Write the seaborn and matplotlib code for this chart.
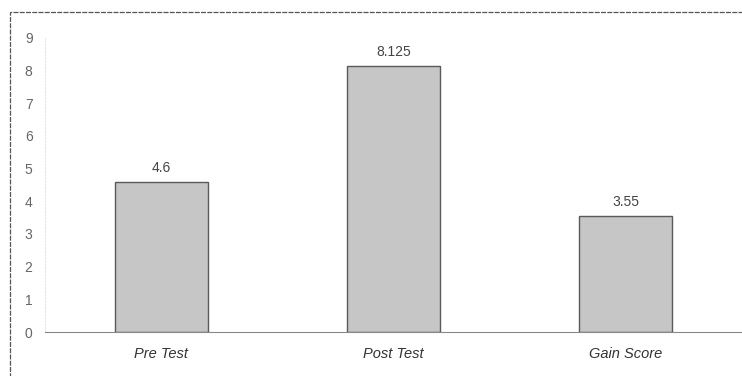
import matplotlib
matplotlib.use("Agg")
import matplotlib.pyplot as plt
import matplotlib.patches as mpatches
import seaborn as sns
import pandas as pd

categories = ["Pre Test", "Post Test", "Gain Score"]
scores = [4.6, 8.125, 3.55]
value_labels = ["4.6", "8.125", "3.55"]
y_ticks = [0, 1, 2, 3, 4, 5, 6, 7, 8, 9]

sns.set_theme(style="white")
plt.rcParams["font.family"] = ["Liberation Sans", "DejaVu Sans"]

df = pd.DataFrame({"test": categories, "score": scores})

fig = plt.figure(figsize=(7.42, 3.76), dpi=100)
fig.patch.set_facecolor("white")
ax = fig.add_axes([45 / 742, 1 - 332 / 376, 1 - 45 / 742, (332 - 37.7) / 376])

sns.barplot(data=df, x="test", y="score", ax=ax, color="#c6c6c6",
            width=0.4, edgecolor="#5a5a5a", linewidth=1.0, saturation=1)

ax.set_ylim(0, 9)
ax.set_xlim(-0.5, 2.5)
ax.set_yticks(y_ticks)
ax.set_yticklabels([str(t) for t in y_ticks], color="#666666", fontsize=10)
ax.tick_params(axis="y", length=0, pad=9)
ax.tick_params(axis="x", length=0, pad=11)
ax.set_xticks(range(len(categories)))
ax.set_xticklabels(categories, style="italic", fontsize=10.5, color="#333333")
ax.set_xlabel("")
ax.set_ylabel("")

for side in ["top", "right"]:
    ax.spines[side].set_visible(False)
ax.spines["bottom"].set_color("#888888")
ax.spines["bottom"].set_linestyle((0, (3, 1)))
ax.spines["bottom"].set_linewidth(0.8)
ax.spines["left"].set_color("#dddddd")
ax.spines["left"].set_linestyle((0, (2, 2)))
ax.spines["left"].set_linewidth(0.6)

for patch, lab in zip(ax.patches, value_labels):
    cx = patch.get_x() + patch.get_width() / 2
    ax.annotate(lab, (cx, patch.get_height()), xytext=(0, 5),
                textcoords="offset points", ha="center", va="bottom",
                fontsize=10, color="#444444")

# outer chart frame
frame = mpatches.Rectangle((10 / 742, -0.2), 1.2, 1 - 12 / 376 + 0.2,
                           transform=fig.transFigure, fill=False,
                           edgecolor="#555555", linewidth=0.9,
                           linestyle=(0, (4, 1)), clip_on=False)
fig.patches.append(frame)

fig.savefig("out.png", dpi=100, facecolor="white")
